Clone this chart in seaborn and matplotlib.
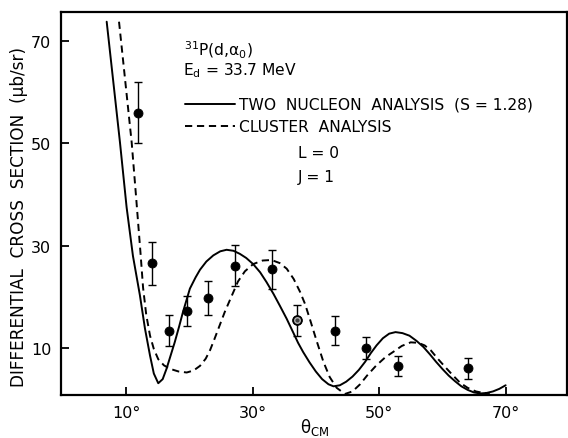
import matplotlib
matplotlib.use("Agg")
import matplotlib.pyplot as plt
import seaborn as sns
import pandas as pd

# Measured angular distribution, 31P(d,alpha0) at Ed = 33.7 MeV
theta_exp = [11.9, 14.1, 16.8, 19.7, 23.0, 27.2, 33.0, 37.0, 43.0, 48.0, 53.0, 64.0]
sigma_exp = [56.0, 26.6, 13.4, 17.2, 19.7, 26.1, 25.4, 15.4, 13.4, 10.0, 6.5, 6.0]
sigma_err = [6.0, 4.2, 3.0, 3.0, 3.3, 4.0, 3.8, 3.0, 2.9, 2.2, 2.0, 2.0]

# Two-nucleon transfer calculation (S = 1.28)
theta_tn = [6.95, 8.0, 9.05, 10.1, 11.1, 12.2, 13.0, 13.8, 14.4, 15.1, 15.8, 16.4,
            17.0, 17.7, 18.4, 19.0, 20.1, 21.0, 21.7, 22.7, 23.8, 24.9, 25.9, 27.0,
            28.0, 29.0, 30.1, 31.2, 32.2, 33.3, 34.3, 35.4, 36.4, 37.2, 38.0, 39.0,
            40.0, 41.0, 42.0, 42.8, 43.8, 44.8, 45.8, 46.8, 47.8, 48.7, 49.6, 50.6,
            51.6, 52.6, 53.7, 54.8, 55.9, 57.0, 58.0, 59.0, 60.0, 61.0, 62.0, 63.0,
            64.0, 65.0, 66.0, 67.0, 68.0, 69.0, 70.0]
sigma_tn = [73.8, 62.0, 50.2, 37.5, 28.0, 20.3, 13.8, 8.5, 5.0, 3.1, 3.9, 5.9,
            8.3, 11.1, 14.2, 17.0, 21.6, 23.8, 25.3, 26.9, 28.1, 28.9, 29.2, 29.0,
            28.4, 27.6, 26.4, 24.8, 22.9, 20.6, 18.3, 15.7, 13.1, 11.0, 9.2, 7.2,
            5.4, 3.9, 2.9, 2.5, 2.7, 3.4, 4.4, 5.7, 7.3, 9.0, 10.5, 11.9,
            12.8, 13.1, 12.9, 12.4, 11.4, 10.2, 8.8, 7.3, 5.9, 4.6, 3.5, 2.5,
            1.8, 1.3, 1.1, 1.2, 1.5, 2.0, 2.7]

# Alpha-cluster transfer calculation
theta_cl = [8.9, 9.9, 10.9, 11.6, 12.3, 12.7, 13.2, 13.8, 14.4, 15.1, 16.0, 17.0,
            18.3, 19.6, 20.7, 21.7, 22.6, 23.3, 24.0, 24.8, 25.6, 26.4, 27.7, 28.8,
            30.1, 31.6, 33.0, 34.3, 35.4, 36.5, 37.5, 38.3, 39.1, 40.1, 41.2, 42.2,
            43.3, 44.6, 45.8, 47.0, 48.1, 49.5, 51.0, 52.2, 53.6, 55.0, 56.2, 57.2,
            58.2, 59.2, 60.5, 61.7, 62.8, 64.0, 65.3, 66.5, 67.5]
sigma_cl = [73.8, 62.0, 50.2, 39.5, 28.5, 21.8, 16.5, 12.4, 9.8, 7.8, 6.6, 5.9,
            5.4, 5.2, 5.6, 6.5, 7.9, 9.6, 11.8, 14.4, 17.0, 19.3, 23.0, 25.0,
            26.4, 27.1, 27.2, 26.6, 25.5, 23.5, 21.0, 18.6, 15.5, 11.5, 7.3, 4.3,
            2.2, 1.0, 1.5, 2.9, 4.6, 6.5, 8.2, 9.2, 10.4, 11.1, 11.0, 10.5,
            9.5, 8.0, 6.2, 4.6, 3.2, 2.2, 1.5, 1.2, 1.2]

x_ticks = [10, 30, 50, 70]
x_ticklabels = ["10°", "30°", "50°", "70°"]
y_ticks = [10, 30, 50, 70]
y_ticklabels = ["10", "30", "50", "70"]

label_tn = "TWO  NUCLEON  ANALYSIS  (S = 1.28)"
label_cl = "CLUSTER  ANALYSIS"

sns.set_theme(style="ticks")
plt.rcParams["font.family"] = ["DejaVu Sans"]
plt.rcParams["mathtext.default"] = "regular"
plt.rcParams["lines.scale_dashes"] = False

exp_df = pd.DataFrame({"theta": theta_exp, "sigma": sigma_exp, "err": sigma_err})
tn_df = pd.DataFrame({"theta": theta_tn, "sigma": sigma_tn})
cl_df = pd.DataFrame({"theta": theta_cl, "sigma": sigma_cl})

fig = plt.figure(figsize=(5.68, 4.39), dpi=100, facecolor="white")
W, H = 568, 439
ax = fig.add_axes([61 / W, 1 - 396 / H, (567 - 61) / W, (396 - 13) / H])
ax.set_facecolor("white")

sns.lineplot(data=tn_df, x="theta", y="sigma", ax=ax, sort=False, estimator=None,
             color="black", linewidth=1.4, label=label_tn)
sns.lineplot(data=cl_df, x="theta", y="sigma", ax=ax, sort=False, estimator=None,
             color="black", linewidth=1.4, linestyle=(0, (5.2, 3.4)), label=label_cl)

ax.errorbar(exp_df["theta"], exp_df["sigma"], yerr=exp_df["err"], fmt="none",
            ecolor="black", elinewidth=1.0, capsize=3.0, capthick=1.0, zorder=3)
sns.scatterplot(data=exp_df, x="theta", y="sigma", ax=ax, color="black", s=42,
                edgecolor="black", linewidth=0.6, zorder=4, legend=False)

# the 37 degree point is printed as a ringed (open-centred) symbol
ringed = exp_df.iloc[[7]]
ax.scatter(ringed["theta"], ringed["sigma"], s=40, facecolor="0.7",
           edgecolor="black", linewidth=1.3, zorder=5)
ax.scatter(ringed["theta"], ringed["sigma"], s=4, color="0.25", zorder=6)

ax.set_xlim(-0.27, 79.7)
ax.set_ylim(0.8, 75.7)
ax.set_xticks(x_ticks)
ax.set_xticklabels(x_ticklabels)
ax.set_yticks(y_ticks)
ax.set_yticklabels(y_ticklabels)
ax.tick_params(direction="in", length=5.5, width=1.3, labelsize=11.5, pad=7,
               colors="black")

for side in ["left", "right", "top", "bottom"]:
    ax.spines[side].set_visible(True)
    ax.spines[side].set_color("black")
    ax.spines[side].set_linewidth(1.6)

ax.set_ylabel("DIFFERENTIAL  CROSS  SECTION  (μb/sr)", fontsize=12.2, color="black")
ax.yaxis.set_label_coords(-0.066, 0.468)
ax.set_xlabel(r"$\theta_{CM}$", fontsize=12, color="black")
ax.xaxis.set_label_coords(0.502, -0.056)

txt_size = 11.2
ax.text(19.2, 67.3, r"$^{31}$P(d,$\alpha_0$)", fontsize=txt_size, va="baseline",
        ha="left", color="black")
ax.text(19.0, 63.5, r"E$_d$ = 33.7 MeV", fontsize=txt_size, va="baseline",
        ha="left", color="black")
ax.text(37.2, 47.3, "L = 0", fontsize=txt_size, va="baseline", ha="left", color="black")
ax.text(37.2, 42.7, "J = 1", fontsize=txt_size, va="baseline", ha="left", color="black")

leg = ax.legend(loc="upper left", bbox_to_anchor=((185 - 61) / 506, (396 - 98) / 383),
                frameon=False, fontsize=txt_size, handlelength=3.2, handletextpad=0.3,
                labelspacing=0.45, borderpad=0, borderaxespad=0)
for t in leg.get_texts():
    t.set_color("black")

fig.savefig("out.png", dpi=100, facecolor="white")
